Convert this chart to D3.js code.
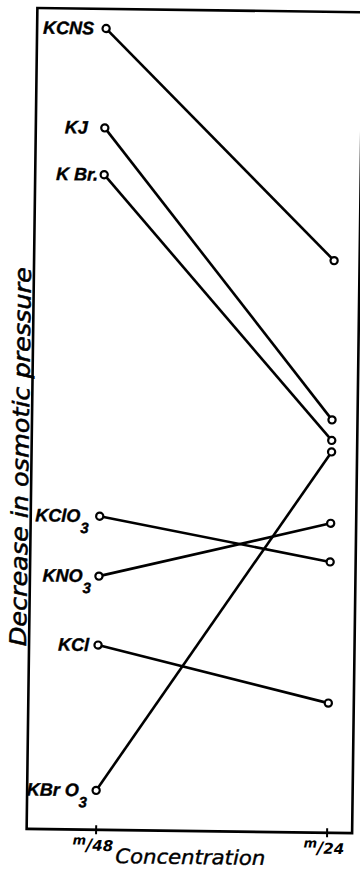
<!DOCTYPE html>
<html>
<head>
<meta charset="utf-8">
<script src="https://cdn.jsdelivr.net/npm/d3@7"></script>
<style>
  html, body { margin: 0; padding: 0; background: #fff; }
  svg { display: block; }
</style>
</head>
<body>
<div id="container"></div>
<script>
// data (y in arbitrary units, 0 = bottom of frame)
var concentrations = ["m/48", "m/24"];
var salts = ["KCNS", "KJ", "KBr", "KClO3", "KNO3", "KCl", "KBrO3"];
var saltLabels = ["KCNS", "KJ", "K Br.", "KClO3", "KNO3", "KCl", "KBr O3"];
var atM48 = [97.6, 85.5, 79.8, 38.2, 30.9, 22.5, 4.8];
var atM24 = [69.7, 50.3, 47.8, 33.0, 37.7, 15.8, 46.4];

var w = 360, h = 871;
var frame = { left: 32, right: 357.5, top: 10, bottom: 831 };

// gap between label end and the circle
var labelGap = [12, 17, 6, 11, 8, 9, 9];

var svg = d3.select("#container")
  .append("svg")
  .attr("width", w)
  .attr("height", h)
  .attr("viewBox", `0 0 ${w} ${h}`);

svg.append("rect")
  .attr("width", w)
  .attr("height", h)
  .attr("fill", "#fff");

// the scanned plate sits slightly askew
var g = svg.append("g")
  .attr("transform", "rotate(0.75, 190, 420)");

var x = d3.scalePoint()
  .domain(concentrations)
  .range([101, 332]);

var y = d3.scaleLinear()
  .domain([0, 100])
  .range([frame.bottom, frame.top]);

// frame
g.append("rect")
  .attr("x", frame.left)
  .attr("y", frame.top)
  .attr("width", frame.right - frame.left)
  .attr("height", frame.bottom - frame.top)
  .attr("fill", "none")
  .attr("stroke", "#000")
  .attr("stroke-width", 2.6);

// x axis: ticks crossing the bottom edge
var xAxis = g.append("g")
  .attr("transform", `translate(0,${frame.bottom})`)
  .call(d3.axisBottom(x).tickSize(5).tickSizeOuter(0).tickFormat(""));

xAxis.select(".domain").remove();
xAxis.selectAll(".tick line")
  .attr("y1", -4.5)
  .attr("y2", 4.5)
  .attr("stroke", "#000")
  .attr("stroke-width", 2);

xAxis.selectAll(".tick").each(function(d) {
  var parts = d.split("/");
  var t = d3.select(this).append("text")
    .attr("x", -3)
    .attr("y", 21)
    .attr("text-anchor", "middle")
    .attr("fill", "#000")
    .style("font-family", "'DejaVu Sans', sans-serif")
    .style("font-style", "italic")
    .style("font-weight", "bold");
  t.append("tspan").attr("font-size", 13).attr("dy", -6).text(parts[0]);
  t.append("tspan").attr("font-size", 17).attr("dy", 6).text("/");
  t.append("tspan").attr("font-size", 15).text(parts[1]);
});

// axis titles
g.append("text")
  .attr("x", 196)
  .attr("y", 864)
  .attr("text-anchor", "middle")
  .attr("textLength", 150)
  .attr("lengthAdjust", "spacingAndGlyphs")
  .attr("stroke", "#000")
  .attr("stroke-width", 0.4)
  .style("font-family", "'DejaVu Sans', sans-serif")
  .style("font-style", "italic")
  .style("font-size", "20px")
  .text("Concentration");

g.append("text")
  .attr("transform", "translate(29,459) rotate(-90)")
  .attr("text-anchor", "middle")
  .attr("textLength", 379)
  .attr("lengthAdjust", "spacingAndGlyphs")
  .attr("stroke", "#000")
  .attr("stroke-width", 0.5)
  .style("font-family", "'DejaVu Sans', sans-serif")
  .style("font-style", "italic")
  .style("font-size", "23px")
  .text("Decrease in osmotic pressure");

// one record per salt
var rows = salts.map(function(s, i) {
  return { salt: s, label: saltLabels[i], gap: labelGap[i],
           pts: [{ c: concentrations[0], v: atM48[i] }, { c: concentrations[1], v: atM24[i] }] };
});

var line = d3.line()
  .x(function(d) { return x(d.c); })
  .y(function(d) { return y(d.v); });

g.append("g").selectAll("path")
  .data(rows)
  .enter().append("path")
  .attr("d", function(d) { return line(d.pts); })
  .attr("fill", "none")
  .attr("stroke", "#000")
  .attr("stroke-width", 2.6);

g.append("g").selectAll("circle")
  .data(rows.flatMap(function(d) { return d.pts; }))
  .enter().append("circle")
  .attr("cx", function(d) { return x(d.c); })
  .attr("cy", function(d) { return y(d.v); })
  .attr("r", 3.6)
  .attr("fill", "#fff")
  .attr("stroke", "#000")
  .attr("stroke-width", 2.2);

// salt labels at the m/48 end
var labels = g.append("g").selectAll("text")
  .data(rows)
  .enter().append("text")
  .attr("x", function(d) { return x(concentrations[0]) - d.gap; })
  .attr("y", function(d) { return y(d.pts[0].v) + 6; })
  .attr("text-anchor", "end")
  .attr("stroke", "#000")
  .attr("stroke-width", 0.4)
  .style("font-family", "'Liberation Sans', Arial, sans-serif")
  .style("font-style", "italic")
  .style("font-weight", "bold")
  .style("font-size", "18px");

labels.each(function(d) {
  var t = d3.select(this);
  if (/O3$/.test(d.label)) {
    t.append("tspan").text(d.label.slice(0, -1));
    t.append("tspan").attr("dy", 11).attr("font-size", 15).text("3");
  } else {
    t.text(d.label);
  }
});
</script>
</body>
</html>
